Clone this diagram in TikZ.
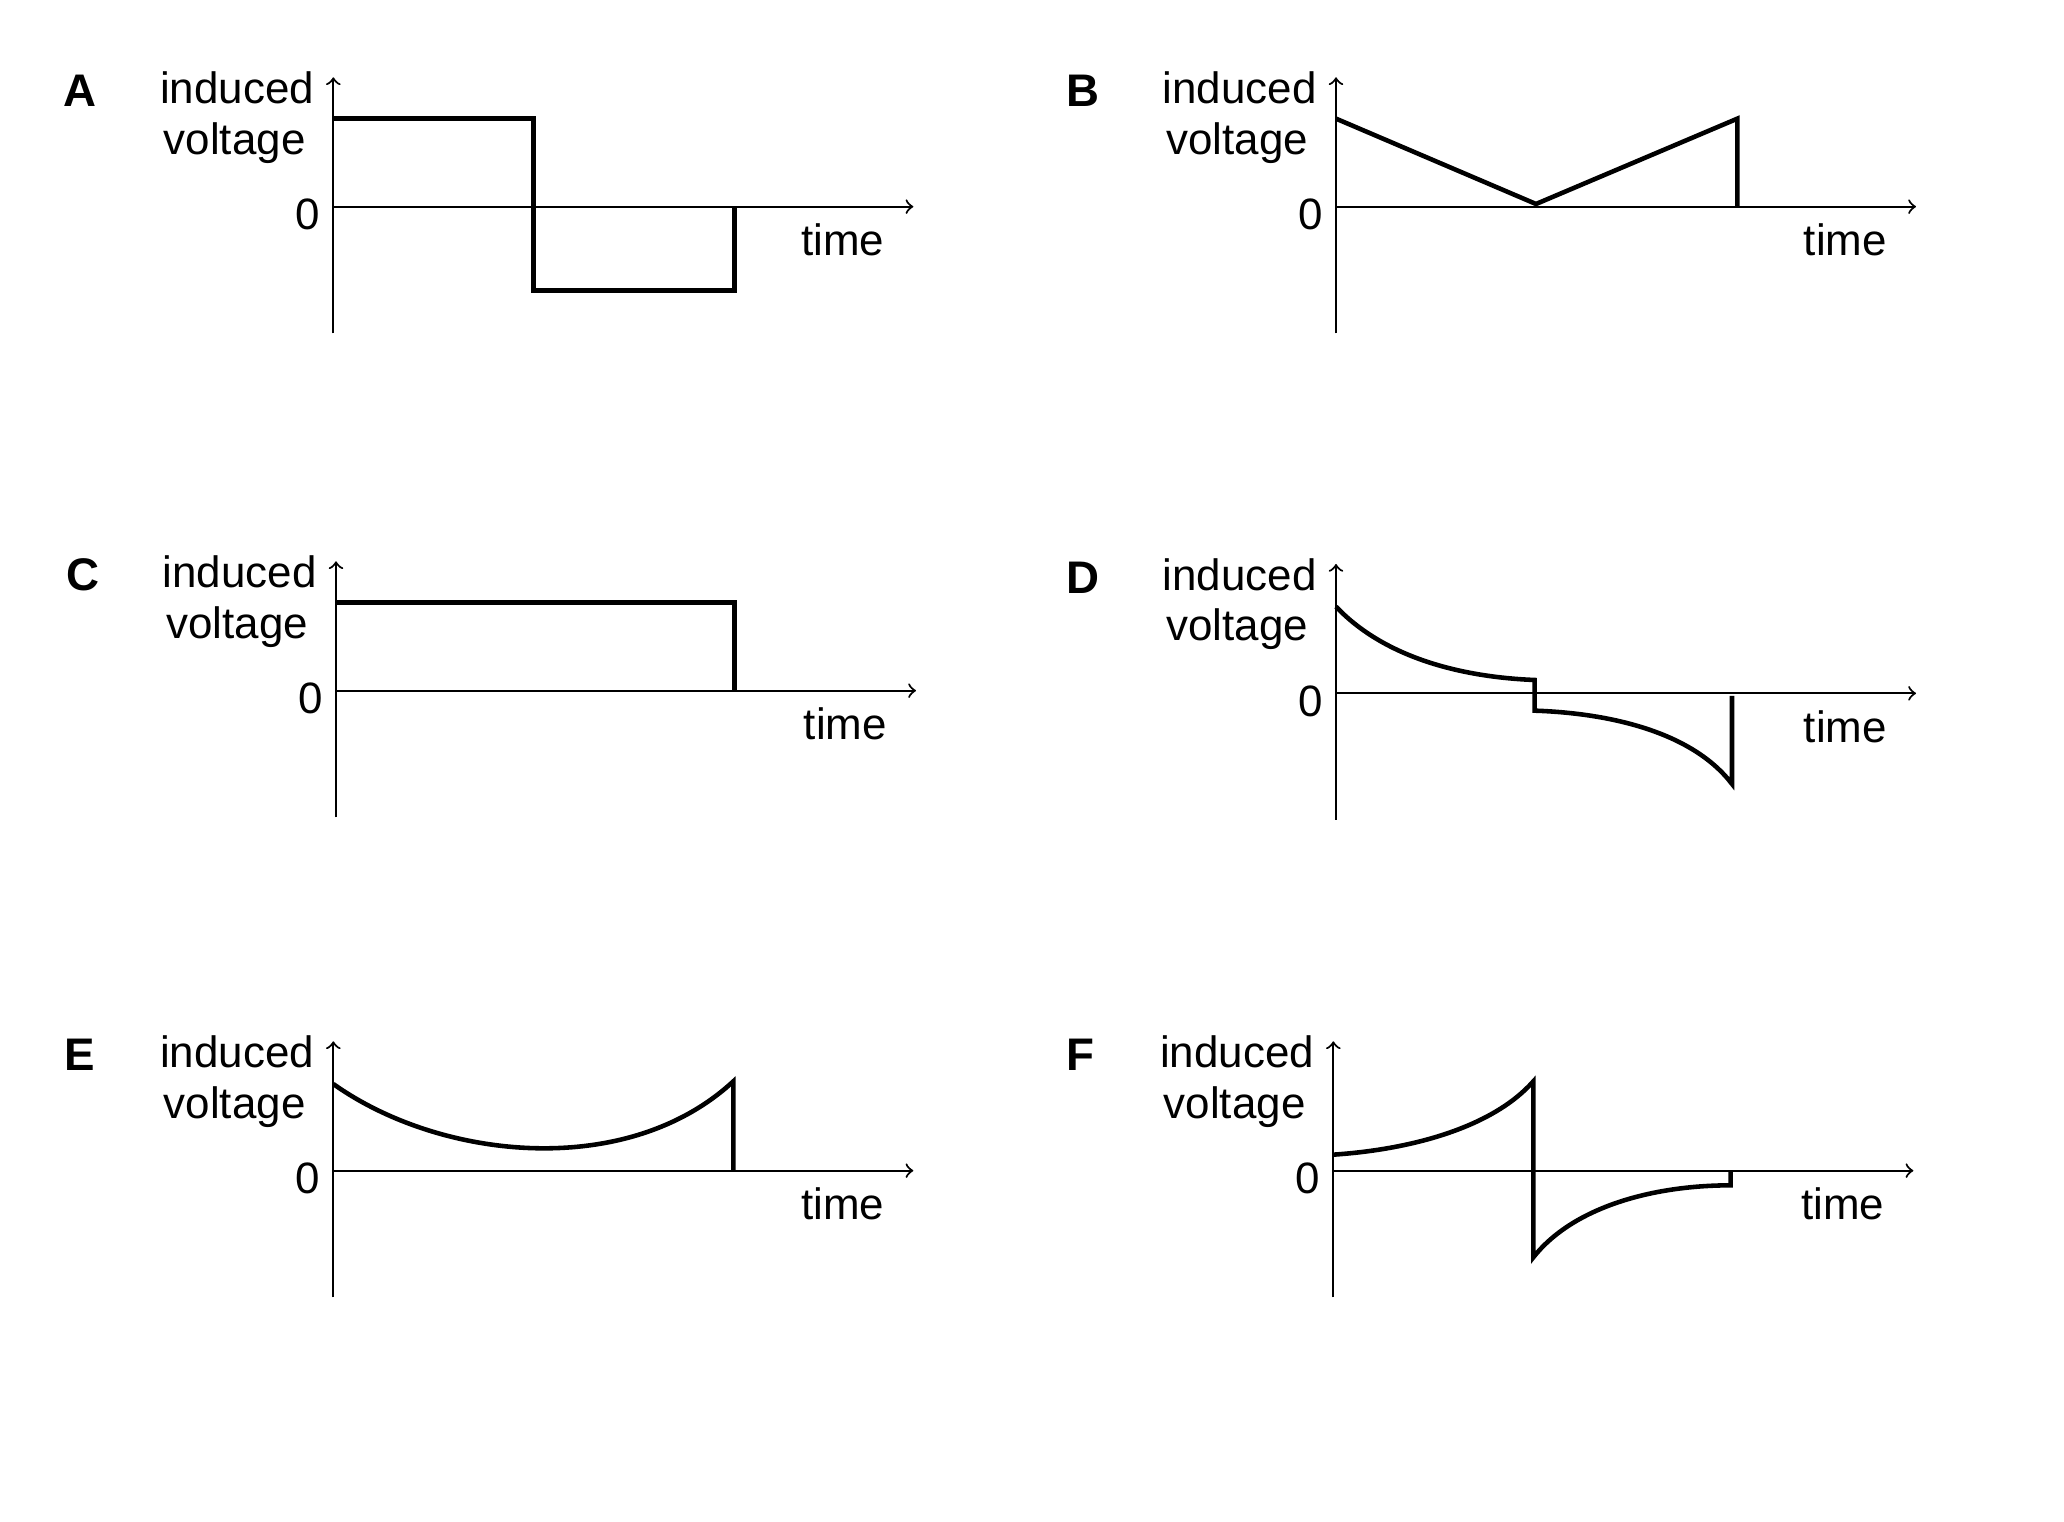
\documentclass[tikz,border=0pt]{standalone}
\usepackage{fontspec}
\setmainfont{Liberation Sans}
\usetikzlibrary{positioning,arrows}
\tikzset{
	axis/.style={->, >=to, line width=0.6pt},
	graph/.style={line width=1.3pt, line join=miter},
	lbl/.style={font=\bfseries\fontsize{13}{15}\selectfont, inner sep=0pt},
	txt/.style={font=\fontsize{12.5}{15}\selectfont, inner sep=0pt}
}
\begin{document}
\begin{tikzpicture}[x=0.01333cm, y=-0.01333cm]
	\useasboundingbox (0,0) rectangle (1548,1141);
	% axes and labels of the six panels
	\foreach \name/\ox/\oy in {A/0/0, B/752/0, C/2/363, D/752/365, E/0/723, F/750/723} {
		\begin{scope}[shift={(\ox,\oy)}]
			\node[lbl] (lbl\name)	at	(60, 68)	{\name};
			\node[txt, anchor=east] (ind\name)	at	(236, 66)	{induced};
			\node[txt] (volt\name)	at	(176, 107)	{voltage};
			\node[txt] (zero\name)	at	(231, 161)	{0};
			\node[txt] (time\name)	at	(632, 180)	{time};
			\draw[axis] (250, 250) -- (250, 58);
			\draw[axis] (250, 155) -- (685, 155);
		\end{scope}
	}
	% curves
	\draw[graph] (250, 89) -- (400, 89) -- (400, 218) -- (551, 218) -- (551, 155);
	\draw[graph] (1002, 89) -- (1152, 153) -- (1303, 89) -- (1303, 155);
	\draw[graph] (252, 452) -- (551, 452) -- (551, 518);
	\draw[graph] (1002, 455) .. controls (1040, 495) and (1100, 508) .. (1151, 510)
		-- (1151, 533) .. controls (1210, 535) and (1270, 550) .. (1299, 588) -- (1299, 522);
	\draw[graph] (250, 813) .. controls (330, 870) and (470, 885) .. (550, 811) -- (550, 878);
	\draw[graph] (1000, 866) .. controls (1060, 862) and (1120, 845) .. (1150, 811)
		-- (1150, 943) .. controls (1180, 905) and (1240, 889) .. (1298, 889) -- (1298, 878);
\end{tikzpicture}
\end{document}
